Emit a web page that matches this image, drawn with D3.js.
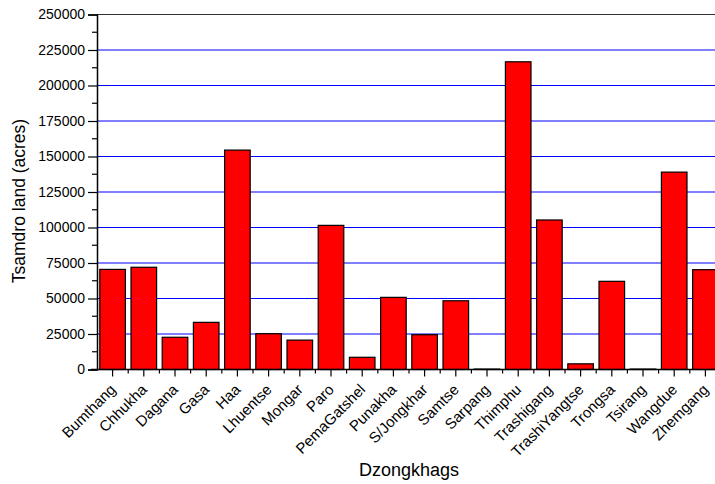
<!DOCTYPE html>
<html>
<head>
<meta charset="utf-8">
<script src="https://cdn.jsdelivr.net/npm/d3@7/dist/d3.min.js"></script>
<style>
  html, body { margin: 0; padding: 0; background: #fff; }
  svg { display: block; font-family: "Liberation Sans", Arial, sans-serif; }
</style>
</head>
<body>
<svg id="chart" width="715" height="484"></svg>
<script>
const categories = ["Bumthang","Chhukha","Dagana","Gasa","Haa","Lhuentse","Mongar","Paro","PemaGatshel","Punakha","S/Jongkhar","Samtse","Sarpang","Thimphu","Trashigang","TrashiYangtse","Trongsa","Tsirang","Wangdue","Zhemgang"];
const values = [70500, 72000, 22700, 33200, 154500, 25200, 20700, 101500, 8600, 50800, 24500, 48400, 300, 216700, 105300, 4000, 62100, 300, 139000, 70300];
const yTickValues = [0, 25000, 50000, 75000, 100000, 125000, 150000, 175000, 200000, 225000, 250000];
const yMinorValues = [12500, 37500, 62500, 87500, 112500, 137500, 162500, 187500, 212500, 237500];
const yTitle = "Tsamdro land (acres)";
const xTitle = "Dzongkhags";

const svg = d3.select("#chart");
const plotLeft = 97, plotRight = 721, plotTop = 14.5, plotBottom = 369.5;

const x = d3.scaleBand().domain(categories).range([plotLeft, plotRight]).paddingInner(0.18).paddingOuter(0.09);
const y = d3.scaleLinear().domain([0, 250000]).range([plotBottom, plotTop]);

// gridlines
svg.append("g").selectAll("line").data(yTickValues.filter(v => v > 0 && v < 250000)).join("line")
  .attr("x1", plotLeft).attr("x2", plotRight)
  .attr("y1", d => y(d)).attr("y2", d => y(d))
  .attr("stroke", "#0000ff").attr("stroke-width", 1);

// top frame line
svg.append("line").attr("x1", plotLeft).attr("x2", plotRight)
  .attr("y1", y(250000)).attr("y2", y(250000))
  .attr("stroke", "#333").attr("stroke-width", 1.2);

// bars
svg.append("g").selectAll("rect").data(categories).join("rect")
  .attr("x", d => x(d))
  .attr("y", (d, i) => y(values[i]))
  .attr("width", x.bandwidth())
  .attr("height", (d, i) => y(0) - y(values[i]))
  .attr("fill", "#ff0000")
  .attr("stroke", "#000").attr("stroke-width", 1.2);

// y axis
const yAxis = d3.axisLeft(y).tickValues(yTickValues).tickSize(9).tickPadding(3).tickFormat(d3.format("d"));
const gy = svg.append("g").attr("transform", `translate(${plotLeft},0)`).call(yAxis);
gy.select(".domain").attr("stroke", "#000").attr("stroke-width", 1.5);
gy.selectAll(".tick line").attr("stroke", "#000").attr("stroke-width", 1.2);
gy.selectAll(".tick text").attr("font-size", "14px").attr("fill", "#000").attr("font-family", "Liberation Sans, Arial, sans-serif");
svg.append("g").selectAll("line").data(yMinorValues).join("line")
  .attr("x1", plotLeft - 5).attr("x2", plotLeft)
  .attr("y1", d => y(d)).attr("y2", d => y(d))
  .attr("stroke", "#000").attr("stroke-width", 1.2);

// x axis
const xAxis = d3.axisBottom(x).tickSize(7).tickFormat("");
const gx = svg.append("g").attr("transform", `translate(0,${plotBottom})`).call(xAxis);
gx.select(".domain").attr("d", `M${plotLeft - 6},0H${plotRight}`).attr("stroke", "#000").attr("stroke-width", 1.5);
gx.selectAll(".tick line").attr("stroke", "#000").attr("stroke-width", 1.2);
// minor x ticks at band boundaries
const boundaries = categories.map(c => x(c) - x.step() * x.paddingInner() / 2);
svg.append("g").selectAll("line").data(boundaries.slice(1)).join("line")
  .attr("x1", d => d).attr("x2", d => d)
  .attr("y1", plotBottom).attr("y2", plotBottom + 4)
  .attr("stroke", "#000").attr("stroke-width", 1.2);

// x labels rotated
svg.append("g").selectAll("text").data(categories).join("text")
  .attr("transform", d => `translate(${x(d) + x.bandwidth() / 2 + 4},${plotBottom + 21}) rotate(-45)`)
  .attr("text-anchor", "end")
  .attr("font-size", "15px")
  .attr("fill", "#000")
  .text(d => d);

// axis titles
svg.append("text")
  .attr("transform", `translate(25,${201}) rotate(-90)`)
  .attr("text-anchor", "middle")
  .attr("font-size", "17.5px")
  .attr("fill", "#000")
  .text(yTitle);

svg.append("text")
  .attr("x", 409).attr("y", 476)
  .attr("text-anchor", "middle")
  .attr("font-size", "18px")
  .attr("fill", "#000")
  .text(xTitle);
</script>
</body>
</html>
